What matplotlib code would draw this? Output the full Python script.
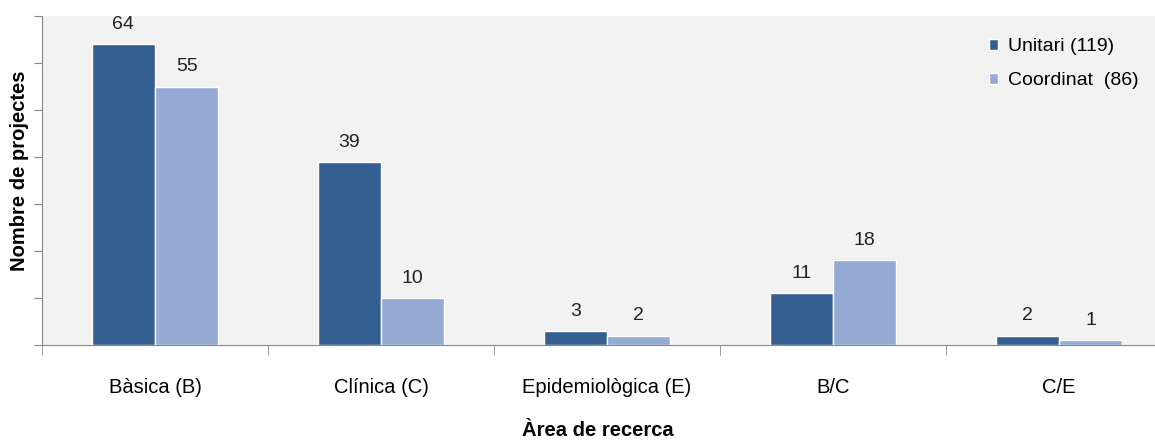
import matplotlib.pyplot as plt
import numpy as np

# data
categories = ['Bàsica (B)', 'Clínica (C)', 'Epidemiològica (E)', 'B/C', 'C/E']
unitari = [64, 39, 3, 11, 2]
coordinat = [55, 10, 2, 18, 1]
legend_labels = ['Unitari (119)', 'Coordinat  (86)']

plt.rcParams['font.family'] = ['Liberation Sans', 'DejaVu Sans']

fig = plt.figure(figsize=(11.55, 4.41), dpi=100)
# plot area runs a bit past the right edge, as in the reference
ax = fig.add_axes([42 / 1155, (441 - 345) / 441, 1130 / 1155, (345 - 16) / 441])
ax.set_facecolor('#f2f2f2')

x = np.arange(len(categories))
w = 0.28
b1 = ax.bar(x - w / 2, unitari, w, color='#365f91', edgecolor='white', linewidth=1, label=legend_labels[0])
b2 = ax.bar(x + w / 2, coordinat, w, color='#95abd3', edgecolor='white', linewidth=1, label=legend_labels[1])

for bars, vals in ((b1, unitari), (b2, coordinat)):
    for r, v in zip(bars, vals):
        ax.annotate(str(v), (r.get_x() + r.get_width() / 2, r.get_height()),
                    xytext=(0, 8), textcoords='offset points',
                    ha='center', va='bottom', fontsize=14, color='#222222')

ax.set_xlim(-0.5, len(categories) - 0.5)
ax.set_ylim(0, 70)
ax.set_yticks(np.arange(0, 71, 10))
ax.set_yticklabels([])
ax.tick_params(axis='y', length=6, color='#888888', direction='out')

ax.set_xticks(x)
ax.set_xticklabels(categories, fontsize=14.5)
ax.tick_params(axis='x', which='major', length=0, pad=24)
ax.set_xticks(np.arange(-0.5, len(categories), 1), minor=True)
ax.tick_params(axis='x', which='minor', length=7, color='#888888', direction='out')

for s in ('top', 'right'):
    ax.spines[s].set_visible(False)
for s in ('left', 'bottom'):
    ax.spines[s].set_color('#888888')

fig.text(20 / 1155, 1 - 171 / 441, 'Nombre de projectes', rotation=90,
         ha='center', va='center', fontsize=14.5, fontweight='bold')
fig.text(598 / 1155, 1 - 430 / 441, 'Àrea de recerca',
         ha='center', va='center', fontsize=14.5, fontweight='bold')

leg = ax.legend(loc='upper right', bbox_to_anchor=(0.986, 0.985), frameon=False, fontsize=14,
                handlelength=0.5, handleheight=0.5, handletextpad=0.5, labelspacing=0.85)

fig.savefig('out.png', dpi=100)
